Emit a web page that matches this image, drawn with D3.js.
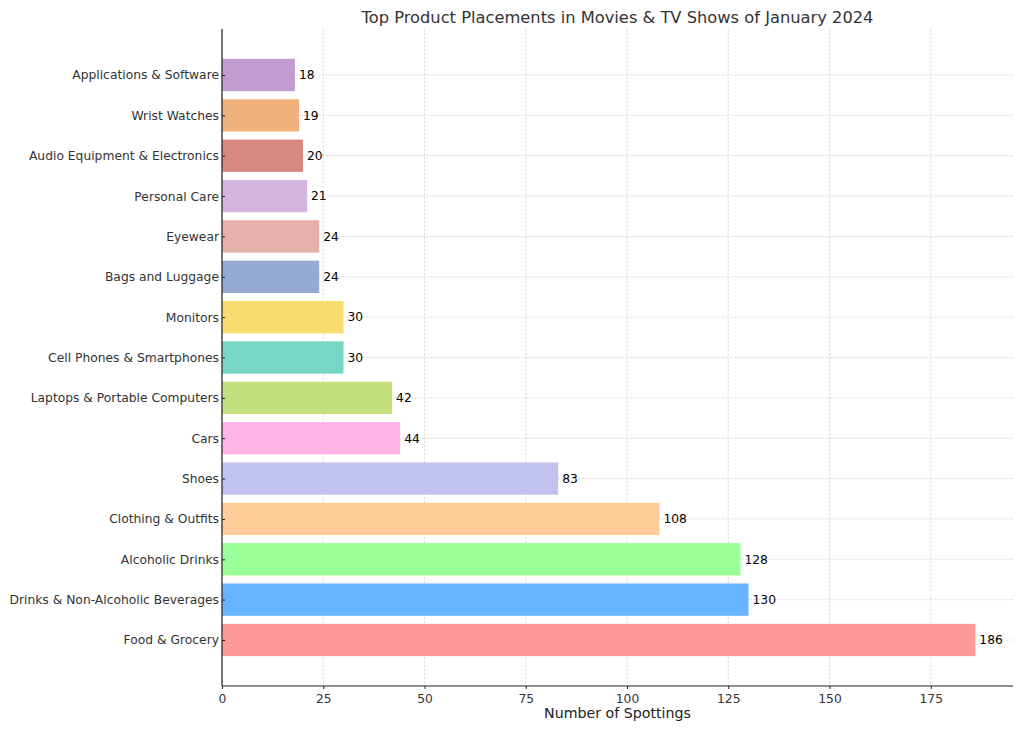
<!DOCTYPE html>
<html><head><meta charset="utf-8">
<script src="https://cdn.jsdelivr.net/npm/d3@7"></script>
<style>body{margin:0;background:#fff}svg{display:block}text{font-family:"DejaVu Sans",sans-serif}</style>
</head><body>
<script>
const categories = ["Food & Grocery","Drinks & Non-Alcoholic Beverages","Alcoholic Drinks","Clothing & Outfits","Shoes","Cars","Laptops & Portable Computers","Cell Phones & Smartphones","Monitors","Bags and Luggage","Eyewear","Personal Care","Audio Equipment & Electronics","Wrist Watches","Applications & Software"];
const values = [186,130,128,108,83,44,42,30,30,24,24,21,20,19,18];
const colors = ["#ff9999","#66b3ff","#99ff99","#ffcc99","#c2c2f0","#ffb3e6","#c4e17f","#76d7c4","#f7dc6f","#95a9d6","#e6b0aa","#d2b4de","#d98880","#f0b27a","#c39bd3"];
const xTicks = [0,25,50,75,100,125,150,175];
const title = "Top Product Placements in Movies & TV Shows of January 2024";
const xLabel = "Number of Spottings";

const W=1024,H=731;
const m={left:222,right:1013,top:29,bottom:686};
const svg=d3.select("body").append("svg").attr("width",W).attr("height",H);
const x=d3.scaleLinear().domain([0,195.3]).range([m.left,m.right]);
const n=categories.length;
const y=d3.scaleLinear().domain([-1.14,n-1+1.14]).range([m.bottom,m.top]);
const bh=(y(0)-y(0.8));

const g=svg.append("g");
// grid
g.selectAll(".vg").data(xTicks).join("line").attr("x1",d=>x(d)).attr("x2",d=>x(d)).attr("y1",m.top).attr("y2",m.bottom)
 .attr("stroke","#cfcfcf").attr("stroke-width",0.7).attr("stroke-dasharray","2.5,1.5");
g.selectAll(".hg").data(d3.range(n)).join("line").attr("x1",m.left).attr("x2",m.right).attr("y1",d=>y(d)).attr("y2",d=>y(d))
 .attr("stroke","#cfcfcf").attr("stroke-width",0.7).attr("stroke-dasharray","2.5,1.5");

// bars
g.selectAll("rect").data(values).join("rect")
 .attr("x",x(0)).attr("y",(d,i)=>y(i+0.4)).attr("width",d=>x(d)-x(0)).attr("height",bh)
 .attr("fill",(d,i)=>colors[i]);
// value labels
g.selectAll(".vl").data(values).join("text").attr("x",d=>x(d)+4).attr("y",(d,i)=>y(i)).attr("dy","0.35em")
 .attr("font-size",12.3).attr("fill","#000").text(d=>d);

// axes
const xa=svg.append("g").attr("transform",`translate(0,${m.bottom})`).call(d3.axisBottom(x).tickValues(xTicks).tickSize(3).tickSizeOuter(0));
xa.select(".domain").attr("stroke","#222").attr("stroke-width",1.2).attr("d",`M${m.left},0H${m.right}`);
xa.selectAll(".tick line").attr("stroke","#222");
xa.selectAll(".tick text").attr("font-size",12.3).attr("fill","#333").attr("font-family","DejaVu Sans").attr("dy","0.9em");

const ya=svg.append("g").attr("transform",`translate(${m.left},0)`).call(d3.axisLeft(y).tickValues(d3.range(n)).tickFormat(i=>categories[i]).tickSize(-3).tickSizeOuter(0).tickPadding(3));
ya.select(".domain").attr("stroke","#222").attr("stroke-width",1.2).attr("d",`M0,${m.top}V${m.bottom}`);
ya.selectAll(".tick line").attr("stroke","#222");
ya.selectAll(".tick text").attr("font-size",12.3).attr("fill","#333").attr("font-family","DejaVu Sans");

svg.append("text").attr("x",(m.left+m.right)/2).attr("y",23).attr("text-anchor","middle").attr("font-size",16.3).attr("fill","#333").text(title);
svg.append("text").attr("x",(m.left+m.right)/2).attr("y",718).attr("text-anchor","middle").attr("font-size",14.2).attr("fill","#222").text(xLabel);
</script>
</body></html>
